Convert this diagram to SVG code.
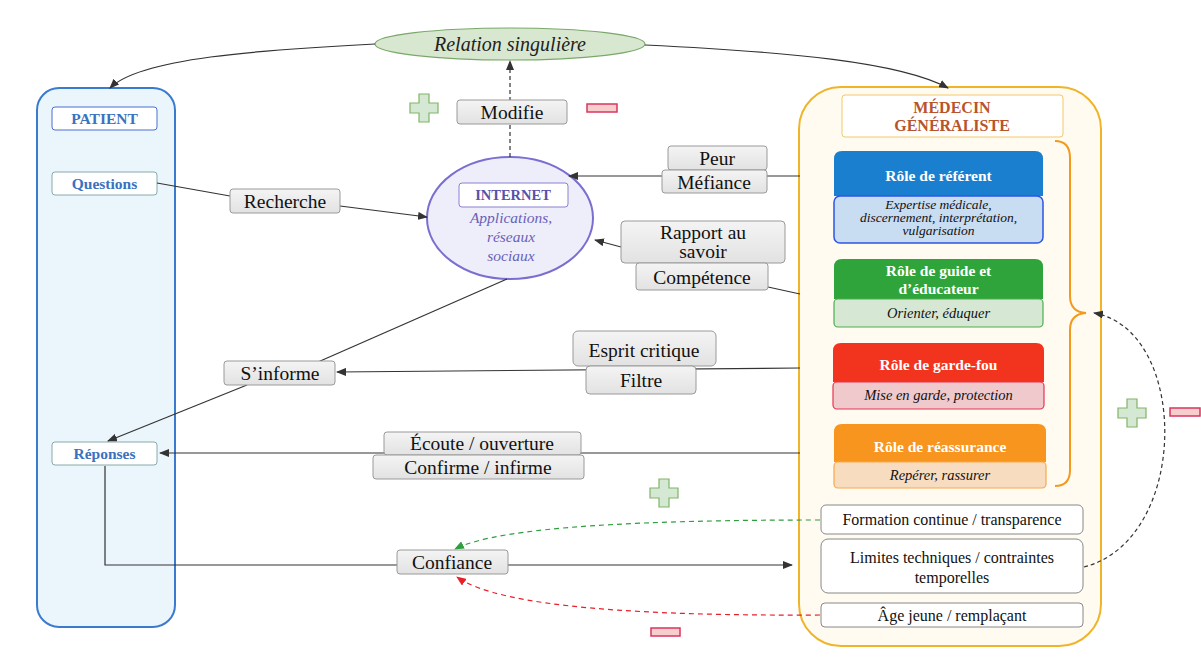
<svg xmlns="http://www.w3.org/2000/svg" xmlns:xlink="http://www.w3.org/1999/xlink" width="1201" height="657" viewBox="0 0 1201 657">
<style>
text{font-family:"Liberation Serif","Times New Roman",serif;text-anchor:middle}
.lbl{fill:url(#gg);stroke:#9a9a9a;stroke-width:1}
.lt{font-size:19.5px;fill:#111}
.pt{font-size:15.5px;font-weight:bold;fill:#3a72c0}
.rh{font-size:15.5px;font-weight:bold;fill:#fff}
.ri{font-size:14.5px;font-style:italic;fill:#111}
.rs{font-size:13.5px;font-style:italic;fill:#111}
.mt{font-size:16px;fill:#111}
.it{font-size:15.5px;font-style:italic;fill:#6a60b8}
.cn{fill:none;stroke:#333;stroke-width:1.2}
.plus{fill:#d5e8d4;stroke:#82b366;stroke-width:1.2}
.minus{fill:#f8cecc;stroke:#d9365f;stroke-width:1.5}
</style>
<defs>
<linearGradient id="gg" x1="0" y1="0" x2="0" y2="1"><stop offset="0" stop-color="#f4f4f4"/><stop offset="1" stop-color="#e2e2e2"/></linearGradient>
<marker id="ar" markerWidth="10" markerHeight="8" refX="9" refY="4" orient="auto" markerUnits="userSpaceOnUse"><path d="M0,0 L10,4 L0,8 Z" fill="#333"/></marker>
<marker id="arg" markerWidth="10" markerHeight="8" refX="9" refY="4" orient="auto" markerUnits="userSpaceOnUse"><path d="M0,0 L10,4 L0,8 Z" fill="#2e9e3e"/></marker>
<marker id="arr" markerWidth="10" markerHeight="8" refX="9" refY="4" orient="auto" markerUnits="userSpaceOnUse"><path d="M0,0 L10,4 L0,8 Z" fill="#e8202a"/></marker>
<path id="plus" d="M-5,-14 H5 V-5 H14 V5 H5 V14 H-5 V5 H-14 V-5 H-5 Z"/>
</defs>
<rect width="1201" height="657" fill="#ffffff"/>

<g id="patient">
<rect x="37" y="88" width="138" height="539" rx="22" fill="#eaf6fc" stroke="#3a7bd0" stroke-width="2"/>
<rect x="52" y="107" width="105" height="23" rx="3" fill="#fff" stroke="#4a6fd0"/>
<text class="pt" x="104.5" y="124">PATIENT</text>
</g>
<g id="questions"><rect x="52" y="172" width="105" height="23" rx="3" fill="#fff" stroke="#8aa"/><text class="pt" x="104.5" y="189">Questions</text></g>
<g id="reponses"><rect x="52" y="442" width="105" height="23" rx="3" fill="#fff" stroke="#8aa"/><text class="pt" x="104.5" y="459">Réponses</text></g>

<g id="medecin">
<rect x="799" y="87" width="302" height="559" rx="42" fill="#fffbf1" stroke="#f0b429" stroke-width="2"/>
<rect x="842" y="95" width="221" height="42" rx="3" fill="#fff" stroke="#f2c86a"/>
<text x="952" y="113" font-size="16" font-weight="bold" fill="#b8542a">MÉDECIN</text>
<text x="952" y="131" font-size="16" font-weight="bold" fill="#b8542a">GÉNÉRALISTE</text>
<path d="M1055,141 Q1070,141 1070,158 V296 Q1070,312 1086,313 Q1070,314 1070,330 V470 Q1070,486 1055,486" fill="none" stroke="#f39a1e" stroke-width="2"/>
</g>

<g id="role-referent">
<path d="M842,151 H1035 Q1043,151 1043,159 V196 H834 V159 Q834,151 842,151 Z" fill="#1a7fcf"/>
<rect x="834" y="196" width="209" height="47" rx="6" fill="#c8dcf2" stroke="#2d55e6" stroke-width="1.5"/>
<text class="rh" x="938.5" y="181">Rôle de référent</text>
<text class="rs" x="938.5" y="209">Expertise médicale,</text>
<text class="rs" x="938.5" y="222">discernement, interprétation,</text>
<text class="rs" x="938.5" y="235">vulgarisation</text>
</g>
<g id="role-guide">
<path d="M842,259 H1035 Q1043,259 1043,267 V299 H834 V267 Q834,259 842,259 Z" fill="#2ea43a"/>
<rect x="834" y="299" width="209" height="28" rx="4" fill="#d6e8d4" stroke="#4cae4c" stroke-width="1.2"/>
<text class="rh" x="938.5" y="276">Rôle de guide et</text>
<text class="rh" x="938.5" y="294">d’éducateur</text>
<text class="ri" x="938.5" y="318">Orienter, éduquer</text>
</g>
<g id="role-gardefou">
<path d="M841,343 H1036 Q1044,343 1044,351 V382 H833 V351 Q833,343 841,343 Z" fill="#f2341e"/>
<rect x="833" y="382" width="211" height="27" rx="4" fill="#f0c9cd" stroke="#e8324f" stroke-width="1.2"/>
<text class="rh" x="938.5" y="370">Rôle de garde-fou</text>
<text class="ri" x="938.5" y="400">Mise en garde, protection</text>
</g>
<g id="role-reassurance">
<path d="M842,424 H1038 Q1046,424 1046,432 V462 H834 V432 Q834,424 842,424 Z" fill="#f7951e"/>
<rect x="834" y="462" width="212" height="26" rx="4" fill="#f8dcc0" stroke="#f7a94a" stroke-width="1.2"/>
<text class="rh" x="940" y="452">Rôle de réassurance</text>
<text class="ri" x="940" y="480">Repérer, rassurer</text>
</g>
<g id="formation"><rect x="821" y="505" width="262" height="29" rx="5" fill="#fff" stroke="#888"/><text class="mt" x="952" y="525">Formation continue / transparence</text></g>
<g id="limites"><rect x="821" y="539" width="262" height="54" rx="7" fill="#fff" stroke="#888"/><text class="mt" x="952" y="563">Limites techniques / contraintes</text><text class="mt" x="952" y="583">temporelles</text></g>
<g id="age"><rect x="821" y="603" width="262" height="24" rx="4" fill="#fff" stroke="#888"/><text class="mt" x="952" y="621">Âge jeune / remplaçant</text></g>

<g id="relation">
<ellipse cx="510" cy="44" rx="135" ry="16" fill="#d8e8d0" stroke="#7aa86a" stroke-width="1.2"/>
<text x="510" y="51" font-size="20" font-style="italic" fill="#222">Relation singulière</text>
</g>
<g id="internet">
<ellipse cx="510" cy="218" rx="83" ry="61" fill="#eeeefb" stroke="#7a6fd0" stroke-width="2"/>
<rect x="459" y="183" width="109" height="24" rx="3" fill="#fff" stroke="#8a80d0"/>
<text x="513" y="200" font-size="14.5" font-weight="bold" fill="#5a50a8">INTERNET</text>
<text class="it" x="511" y="223">Applications,</text>
<text class="it" x="511" y="242">réseaux</text>
<text class="it" x="511" y="261">sociaux</text>
</g>

<g id="connectors">
<path class="cn" d="M375,44 C260,50 140,58 110,88" marker-end="url(#ar)"/>
<path class="cn" d="M645,45 C790,52 900,62 948,88" marker-end="url(#ar)"/>
<path class="cn" d="M510,157 V61" stroke-dasharray="4,3" marker-end="url(#ar)"/>
<path class="cn" d="M157,183 L230,196 M340,206 L427,217" marker-end="url(#ar)"/>
<path class="cn" d="M800,176 H569" marker-end="url(#ar)"/>
<path class="cn" d="M621,247 L595,240" marker-end="url(#ar)"/>
<path class="cn" d="M768,287 L800,294"/>
<path class="cn" d="M507,279 L318,362"/>
<path class="cn" d="M247,385 L108,441" marker-end="url(#ar)"/>
<path class="cn" d="M800,368 L337,372" marker-end="url(#ar)"/>
<path class="cn" d="M800,453 H160" marker-end="url(#ar)"/>
<path class="cn" d="M105,466 V565 H397 M508,565 H792" marker-end="url(#ar)"/>
<path d="M820,520 C650,520 500,526 455,549" fill="none" stroke="#2e9e3e" stroke-width="1.2" stroke-dasharray="5,4" marker-end="url(#arg)"/>
<path d="M820,615 C650,616 500,608 457,577" fill="none" stroke="#e8202a" stroke-width="1.2" stroke-dasharray="5,4" marker-end="url(#arr)"/>
<path d="M1084,567 C1190,540 1190,330 1094,313" fill="none" stroke="#333" stroke-width="1.2" stroke-dasharray="4,3" marker-end="url(#ar)"/>
</g>

<g id="lbl-modifie"><rect class="lbl" x="457" y="100" width="110" height="24" rx="3"/><text class="lt" x="512" y="119">Modifie</text></g>
<g id="lbl-recherche"><rect class="lbl" x="230" y="189" width="110" height="24" rx="3"/><text class="lt" x="285" y="208">Recherche</text></g>
<g id="lbl-peur"><rect class="lbl" x="668" y="146" width="99" height="24" rx="3"/><text class="lt" x="717" y="165">Peur</text></g>
<g id="lbl-mefiance"><rect class="lbl" x="662" y="170" width="105" height="23" rx="3"/><text class="lt" x="714" y="189">Méfiance</text></g>
<g id="lbl-rapport"><rect class="lbl" x="621" y="221" width="164" height="42" rx="4"/><text class="lt" x="703" y="239" font-size="19px">Rapport au</text><text class="lt" x="703" y="258" font-size="19px">savoir</text></g>
<g id="lbl-competence"><rect class="lbl" x="636" y="263" width="132" height="27" rx="3"/><text class="lt" x="702" y="284">Compétence</text></g>
<g id="lbl-sinforme"><rect class="lbl" x="224" y="361" width="111" height="24" rx="3"/><text class="lt" x="280" y="380">S’informe</text></g>
<g id="lbl-esprit"><rect class="lbl" x="573" y="331" width="143" height="35" rx="5"/><text class="lt" x="644" y="357">Esprit critique</text></g>
<g id="lbl-filtre"><rect class="lbl" x="586" y="366" width="110" height="28" rx="4"/><text class="lt" x="641" y="387">Filtre</text></g>
<g id="lbl-ecoute"><rect class="lbl" x="384" y="432" width="197" height="23" rx="3"/><text class="lt" x="482" y="450">Écoute / ouverture</text></g>
<g id="lbl-confirme"><rect class="lbl" x="373" y="455" width="211" height="24" rx="3"/><text class="lt" x="478" y="474">Confirme / infirme</text></g>
<g id="lbl-confiance"><rect class="lbl" x="397" y="550" width="111" height="24" rx="3"/><text class="lt" x="452" y="569">Confiance</text></g>

<g id="signs">
<use xlink:href="#plus" class="plus" x="424" y="108"/>
<rect class="minus" x="587" y="104" width="30" height="8"/>
<use xlink:href="#plus" class="plus" x="664" y="493"/>
<rect class="minus" x="651" y="628" width="29" height="8"/>
<use xlink:href="#plus" class="plus" x="1132" y="413"/>
<rect class="minus" x="1170" y="408" width="30" height="8"/>
</g>
</svg>
